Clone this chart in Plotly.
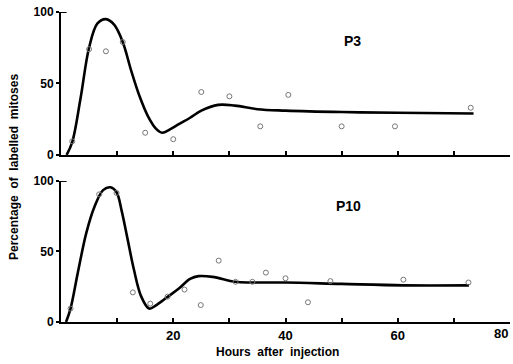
import plotly.graph_objects as go
from plotly.subplots import make_subplots

# ---- P3 panel (top) ----
p3_hours = [2, 5, 8, 11, 15, 20, 25, 30, 35.5, 40.5, 50, 59.5, 73]
p3_values = [9.5, 74, 72.5, 79, 15.5, 11, 44, 41, 20, 42, 20, 20, 33]
p3_curve_hours = [1.0, 2.0, 3.5, 5, 6.5, 8, 9.5, 11, 12.5, 14, 15.5, 17, 18, 19.5,
                  21, 23, 25, 28, 31, 35, 40, 50, 60, 73.5]
p3_curve_values = [0, 9, 40, 75, 92, 95, 91, 79, 59, 41, 27, 18, 15.5, 18,
                   21.5, 26, 31, 35, 34.5, 32, 31, 30, 29.5, 29]

# ---- P10 panel (bottom) ----
p10_hours = [1.7, 6.8, 9.9, 12.8, 15.9, 19, 22, 24.9, 28.1, 31.1, 34.1,
             36.5, 40, 44, 48, 61, 72.6]
p10_values = [9.5, 90.5, 91.5, 21, 13, 18, 23, 12, 43.5, 28.5, 28.5,
              35, 31, 14, 29, 30, 28]
p10_curve_hours = [0.9, 1.7, 3, 4.5, 6, 7.5, 8.8, 9.9, 10.8, 11.8, 13, 14.3, 15.7,
                   17, 19, 21, 23, 24.5, 27, 31, 34, 40, 50, 61, 72.7]
p10_curve_values = [0, 9.5, 35, 63, 82, 93.5, 95.5, 92, 79, 60, 37, 18, 9.5,
                    12, 17.8, 23.7, 30.5, 32.5, 32, 28.5, 28, 28, 27, 26, 26]

x_tickvals = [0, 10, 20, 30, 40, 50, 60, 70, 80]
x_ticktext = ["", "", "20", "", "40", "", "60", "", ""]
x_last_label = "80"
y_tickvals = [0, 50, 100]
y_ticktext = ["0", "50", "100"]

FONT = "Liberation Sans, Arial, sans-serif"

fig = make_subplots(rows=2, cols=1, shared_xaxes=False, vertical_spacing=0.0)

panels = [
    (1, p3_hours, p3_values, p3_curve_hours, p3_curve_values),
    (2, p10_hours, p10_values, p10_curve_hours, p10_curve_values),
]
for row, hx, hv, chx, chv in panels:
    fig.add_trace(go.Scatter(x=chx, y=chv, mode="lines",
                             line=dict(color="black", width=2.6, shape="spline", smoothing=1.0),
                             showlegend=False, hoverinfo="skip"), row=row, col=1)
    fig.add_trace(go.Scatter(x=hx, y=hv, mode="markers",
                             marker=dict(symbol="circle-open", size=5, color="#777",
                                         line=dict(width=1, color="#777")),
                             showlegend=False), row=row, col=1)

axis_common = dict(showline=True, linecolor="black", linewidth=2, showgrid=False,
                   zeroline=False, tickcolor="black", tickwidth=2, automargin=False)

fig.update_xaxes(range=[0, 80], tickvals=x_tickvals, ticks="inside", ticklen=4,
                 ticktext=["" for _ in x_tickvals], **axis_common, row=1, col=1)
fig.update_xaxes(range=[0, 80], tickvals=x_tickvals, ticks="inside", ticklen=4,
                 ticktext=x_ticktext,
                 tickfont=dict(family=FONT, size=13, color="black", weight="bold"),
                 **axis_common, row=2, col=1)
for r in (1, 2):
    fig.update_yaxes(range=[0, 100], tickvals=y_tickvals, ticktext=y_ticktext,
                     ticks="outside", ticklen=3,
                     tickfont=dict(family=FONT, size=12, color="black", weight="bold"),
                     **axis_common, row=r, col=1)

fig.update_layout(
    width=513, height=364,
    margin=dict(l=61, r=3, t=12, b=42, autoexpand=False),
    paper_bgcolor="white", plot_bgcolor="white",
    xaxis=dict(domain=[0, 1]), xaxis2=dict(domain=[0, 1]),
    yaxis=dict(domain=[0.539, 1.0]), yaxis2=dict(domain=[0.0, 0.455]),
)

# hooks at top of y axes
for yref, xref in (("y", "x"), ("y2", "x2")):
    fig.add_shape(type="line", xref=xref, yref=yref, x0=0, x1=1.0, y0=100, y1=100,
                  line=dict(color="black", width=2))

bold = dict(family=FONT, color="black", weight="bold")
# last x tick label, kept inside the page edge
fig.add_annotation(text=x_last_label, xref="x2", yref="y2", x=80, y=0, yshift=-2,
                   xanchor="right", yanchor="top", showarrow=False,
                   font=dict(size=13, **bold))
fig.add_annotation(text="P3", xref="x", yref="y", x=52, y=80, showarrow=False,
                   font=dict(size=14, **bold))
fig.add_annotation(text="P10", xref="x2", yref="y2", x=51.3, y=82, showarrow=False,
                   font=dict(size=14, **bold))
fig.add_annotation(text="Percentage  of  labelled  mitoses", xref="paper", yref="paper",
                   x=-0.1047, y=0.5, textangle=-90, showarrow=False,
                   xanchor="center", yanchor="middle", font=dict(size=12, **bold))
fig.add_annotation(text="Hours  after  injection", xref="paper", yref="paper",
                   x=0.483, y=0, yshift=-30, showarrow=False,
                   xanchor="center", yanchor="middle", font=dict(size=12, **bold))

fig.write_html("out.html")
